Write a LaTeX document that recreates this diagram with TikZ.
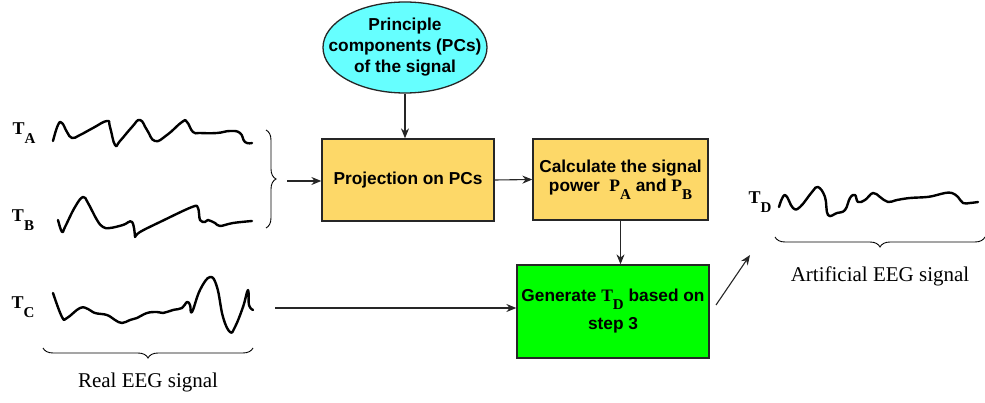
\documentclass[tikz,border=0pt]{standalone}
\usepackage{fontspec}
\setmainfont{Liberation Serif}
\newfontfamily\boxfont{Liberation Sans}
\usetikzlibrary{arrows.meta,shapes.geometric,decorations.pathreplacing}
\definecolor{boxyellow}{HTML}{FDD868}
\definecolor{ellcyan}{HTML}{66FFFF}
\definecolor{gengreen}{HTML}{00FF00}
\newcommand\Tsub[2]{{\rmfamily\bfseries\fontsize{18}{18}\selectfont #1\raisebox{-9pt}{\fontsize{15}{15}\selectfont #2}}}
\newcommand\Psub[2]{{\rmfamily\bfseries\fontsize{17.5}{17.5}\selectfont #1\raisebox{-8pt}{\fontsize{15}{15}\selectfont #2}}}
\begin{document}
\begin{tikzpicture}[x=1pt,y=-1pt,
  boxfontstyle/.style={font=\boxfont\bfseries\fontsize{17.3}{21}\selectfont},
  box/.style={draw=black!85, line width=1.3pt, align=center, inner sep=0pt, boxfontstyle},
  arr/.style={-{Stealth[length=10pt,width=8pt]}, line width=1.1pt, draw=black!85},
  wave/.style={line width=2.4pt, line cap=round, line join=round},
  bracestyle/.style={decorate, decoration={brace, amplitude=10pt}, line width=0.9pt},
  lbl/.style={inner sep=0pt, font=\fontsize{21}{23}\selectfont},
  tlbl/.style={inner sep=0pt}]
\useasboundingbox (0,0) rectangle (985,403);

% nodes
\node[box, ellipse, fill=ellcyan, minimum width=164pt, minimum height=91pt] (ell) at (405,47.5) {};
\node[align=center, inner sep=0pt, boxfontstyle] (elltext) at (ell.center)
  {Principle\\components (PCs)\\of the signal};
\node[box, rectangle, fill=boxyellow, minimum width=172pt, minimum height=82pt] (proj) at (408,180)
  {Projection on PCs};
\node[box, rectangle, fill=boxyellow, minimum width=175pt, minimum height=81pt] (calc) at (620.5,179.5)
  {Calculate the signal\\[-2pt]power \ \Psub{P}{A} and \Psub{P}{B}};
\node[box, rectangle, fill=gengreen, minimum width=192pt, minimum height=93pt] (gen) at (613,311.5)
  {Generate \Psub{T}{D} based on\\[7pt]step 3};

% signal labels
\node[tlbl] (ta) at (24,133) {\Tsub{T}{A}};
\node[tlbl] (tb) at (23,220) {\Tsub{T}{B}};
\node[tlbl] (tc) at (23,307) {\Tsub{T}{C}};
\node[tlbl] (td) at (760,202) {\Tsub{T}{D}};

% waveforms
\draw[wave] plot[smooth, tension=0.8] coordinates {(53,141) (58,125) (62,123) (67,132) (72,138) (80,135) (93,128) (107,121) (110,127) (115,145) (120,141) (132,127) (140,120) (147,130) (155,141) (167,135) (182,122) (187,122) (193,132) (200,133) (217,133) (230,131) (240,133) (245,142) (252,143)};
\draw[wave] plot[smooth, tension=0.7] coordinates {(58,220) (62,232) (65,227) (75,207) (83,197) (88,203) (97,220) (103,227) (110,228) (123,225) (132,222) (135,237)};
\draw[wave] plot[smooth, tension=0.6] coordinates {(135,237) (140,232) (160,222) (192,207) (198,208) (200,220) (205,222) (208,220) (215,223) (220,226) (233,223) (252,221)};
\draw[wave] plot[smooth, tension=0.7] coordinates {(53,293) (62,317) (67,318) (80,308) (88,309) (95,313) (107,315) (115,320) (122,323) (130,320) (137,318) (147,313) (157,312) (163,313) (173,310) (182,308) (187,302) (190,305) (192,312) (200,290) (210,277) (217,287) (223,317) (230,332) (235,327) (243,307) (248,290) (249,305) (253,310)};
\draw[wave] plot[smooth, tension=0.7] coordinates {(779,207) (785,195) (793,208) (800,207) (812,192) (818,187) (825,197) (828,215) (837,213) (845,210) (850,198) (855,195) (858,202) (865,200) (873,193) (880,197) (888,202) (897,200) (910,198) (927,197) (937,195) (945,193) (952,193) (958,197) (963,203) (970,203) (978,202)};

% braces
\draw[bracestyle] (266,130) -- (266,228);
\coordinate (btip) at (287,181);
\draw[bracestyle] (253,348) -- (43,348);
\draw[bracestyle] (985,237) -- (775,237);
\node[lbl] (real) at (148,382) {Real EEG signal};
\node[lbl] (art) at (880,276) {Artificial EEG signal};

% connectors
\draw[arr] (ell.south) -- (ell.south |- proj.north);
\draw[arr] (btip) -- (btip -| proj.west);
\draw[arr] (proj.east) -- (calc.west);
\draw[arr] (calc.south) -- (calc.south |- gen.north);
\coordinate (tcend) at (275,308);
\draw[arr] (tcend) -- (tcend -| gen.west);
\coordinate (gstart) at (716,305);
\coordinate (gend) at (750,255);
\draw[arr] (gstart) -- (gend);
\end{tikzpicture}
\end{document}
